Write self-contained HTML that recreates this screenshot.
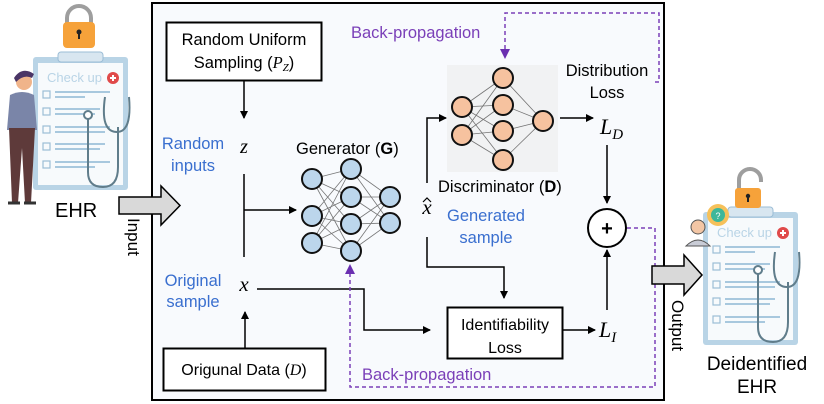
<!DOCTYPE html>
<html><head><meta charset="utf-8"><style>
html,body{margin:0;padding:0;background:#fff;}
svg{display:block;}
text{font-family:"Liberation Sans",sans-serif;}
.m{font-family:"Liberation Serif",serif;font-style:italic;}
</style></head><body>
<svg width="824" height="404" viewBox="0 0 824 404" xmlns="http://www.w3.org/2000/svg">
<defs>
<marker id="ah" markerWidth="8" markerHeight="8" refX="7" refY="4" orient="auto" markerUnits="userSpaceOnUse"><path d="M0,0 L8,4 L0,8 z" fill="#000"/></marker>
<marker id="ap" markerWidth="10" markerHeight="10" refX="9" refY="5" orient="auto" markerUnits="userSpaceOnUse"><path d="M0,0 L10,5 L0,10 z" fill="#6a2fb0"/></marker>
<g id="clip">
<rect x="0" y="0" width="95" height="133" rx="3" fill="#b9d4e6"/>
<rect x="5" y="6" width="85" height="122" fill="#f7fafc"/>
<rect x="25" y="-5" width="45" height="10" rx="3" fill="#d8e6f0" stroke="#9bbdd6"/>
<text x="14" y="25" font-size="13" fill="#b9d4e6">Check up</text>
<circle cx="80" cy="21" r="6" fill="#e04a4a"/>
<path d="M77,21h6M80,18v6" stroke="#fff" stroke-width="2"/>
<g fill="none" stroke="#9bbdd6" stroke-width="1.2">
<rect x="10" y="34" width="7" height="7"/><rect x="10" y="51" width="7" height="7"/><rect x="10" y="69" width="7" height="7"/><rect x="10" y="86" width="7" height="7"/><rect x="10" y="104" width="7" height="7"/>
</g>
<g stroke="#a8c8de" stroke-width="2">
<path d="M22,35h55M22,40h30M22,52h45M22,57h40M22,70h55M22,75h50M22,87h50M22,92h45M22,105h55M22,110h40"/>
</g>
<path d="M55,60 v55 q0,15 15,15 q15,0 15,-20 v-40" fill="none" stroke="#607d8b" stroke-width="2"/>
<circle cx="55" cy="58" r="4" fill="#fff" stroke="#607d8b" stroke-width="2"/>
<path d="M72,40 q-5,35 12,35 q15,0 12,-35" fill="none" stroke="#607d8b" stroke-width="2"/>
</g>
</defs>

<!-- left EHR -->
<use href="#clip" x="33" y="57"/>
<path d="M67,24 v-6 a12,12 0 0 1 24,0 v6" fill="none" stroke="#9e9e9e" stroke-width="4"/>
<rect x="63" y="22" width="32" height="26" rx="4" fill="#f6a23a"/>
<circle cx="79" cy="32" r="2.5" fill="#222"/><rect x="78" y="33" width="2" height="6" fill="#222"/>
<circle cx="24" cy="82" r="8" fill="#f0b48a"/>
<path d="M14,78 q8,-12 20,-4 l-2,4 q-8,-4 -16,4z" fill="#4a3566"/>
<path d="M10,95 q12,-6 24,0 l3,35 h-30z" fill="#7a85a8"/>
<path d="M9,128 h26 l-4,75 h-6 l-3,-55 l-4,55 h-6z" fill="#5e3a3a"/>
<path d="M8,203h12M24,203h12" stroke="#333" stroke-width="3"/>
<text x="55" y="217" font-size="20">EHR</text>

<!-- main box -->
<rect x="152" y="3" width="512" height="397" fill="#f8fafd" stroke="#000" stroke-width="2"/>

<!-- input arrow -->
<path d="M119,197 h42 v-11 l19,19.5 l-19,19.5 v-11 h-42z" fill="#d9d9d9" stroke="#000" stroke-width="1.5"/>
<text transform="translate(128,218) rotate(90)" font-size="17">Input</text>

<!-- random uniform -->
<rect x="166.5" y="22.5" width="155" height="58" fill="#fff" stroke="#000" stroke-width="2"/>
<text x="244" y="45" font-size="16.5" text-anchor="middle">Random Uniform</text>
<text x="244" y="68" font-size="16.5" text-anchor="middle">Sampling (<tspan class="m">P</tspan><tspan class="m" font-size="11" dy="3">Z</tspan><tspan dy="-3">)</tspan></text>
<line x1="244" y1="81" x2="244" y2="118" stroke="#000" stroke-width="1.5" marker-end="url(#ah)"/>
<text x="244" y="153" class="m" font-size="20" text-anchor="middle">z</text>
<text x="193" y="149" font-size="16.5" fill="#3a6fcf" text-anchor="middle">Random</text>
<text x="193" y="171" font-size="16.5" fill="#3a6fcf" text-anchor="middle">inputs</text>
<line x1="244" y1="174" x2="244" y2="257" stroke="#000" stroke-width="1.5"/>
<line x1="244" y1="210" x2="296" y2="210" stroke="#000" stroke-width="1.5" marker-end="url(#ah)"/>
<text x="296" y="154" font-size="16.5">Generator (<tspan font-weight="bold">G</tspan>)</text>

<!-- generator -->
<g stroke="#555" stroke-width="0.8" opacity="0.8">
<path d="M312,179L351,169M312,179L351,197M312,179L351,224M312,179L351,251M312,216L351,169M312,216L351,197M312,216L351,224M312,216L351,251M312,243L351,169M312,243L351,197M312,243L351,224M312,243L351,251M351,169L390,197M351,169L390,223M351,197L390,197M351,197L390,223M351,224L390,197M351,224L390,223M351,251L390,197M351,251L390,223"/>
</g>
<g fill="#bcd6ec" stroke="#111" stroke-width="2">
<circle cx="312" cy="179" r="10"/><circle cx="312" cy="216" r="10"/><circle cx="312" cy="243" r="10"/>
<circle cx="351" cy="169" r="10"/><circle cx="351" cy="197" r="10"/><circle cx="351" cy="224" r="10"/><circle cx="351" cy="251" r="10"/>
<circle cx="390" cy="197" r="10"/><circle cx="390" cy="223" r="10"/>
</g>

<!-- x -->
<text x="244" y="291" class="m" font-size="21" text-anchor="middle">x</text>
<text x="193" y="286" font-size="16.5" fill="#3a6fcf" text-anchor="middle">Original</text>
<text x="193" y="307" font-size="16.5" fill="#3a6fcf" text-anchor="middle">sample</text>
<line x1="245" y1="348" x2="245" y2="312" stroke="#000" stroke-width="1.5" marker-end="url(#ah)"/>
<rect x="163.5" y="348.5" width="162" height="42" fill="#fff" stroke="#000" stroke-width="2"/>
<text x="244" y="375" font-size="16" text-anchor="middle">Origunal Data (<tspan class="m">D</tspan>)</text>
<polyline points="257,289 364,289 364,330 430,330" fill="none" stroke="#000" stroke-width="1.5" marker-end="url(#ah)"/>

<!-- identifiability -->
<rect x="447.5" y="307.5" width="115" height="51" fill="#fff" stroke="#000" stroke-width="2"/>
<text x="505" y="330" font-size="16" text-anchor="middle">Identifiability</text>
<text x="505" y="353" font-size="16" text-anchor="middle">Loss</text>
<line x1="563" y1="330" x2="595" y2="330" stroke="#000" stroke-width="1.5" marker-end="url(#ah)"/>
<text x="599" y="337" class="m" font-size="22">L<tspan font-size="15" dy="5">I</tspan></text>
<line x1="607" y1="310" x2="607" y2="250" stroke="#000" stroke-width="1.5" marker-end="url(#ah)"/>

<!-- xhat -->
<text x="427" y="214" class="m" font-size="21" text-anchor="middle">x</text>
<path d="M423,202 l4,-4 l4,4" fill="none" stroke="#000" stroke-width="1.2"/>
<text x="486" y="221" font-size="16.5" fill="#3a6fcf" text-anchor="middle">Generated</text>
<text x="486" y="243" font-size="16.5" fill="#3a6fcf" text-anchor="middle">sample</text>
<polyline points="427,183 427,118 446,118" fill="none" stroke="#000" stroke-width="1.5" marker-end="url(#ah)"/>
<polyline points="427,237 427,267 504,267 504,298" fill="none" stroke="#000" stroke-width="1.5" marker-end="url(#ah)"/>

<!-- discriminator -->
<rect x="447" y="65" width="111" height="107" fill="#ececec" opacity="0.6"/>
<g stroke="#555" stroke-width="0.8" opacity="0.8">
<path d="M462,107L503,78M462,107L503,105M462,107L503,131M462,107L503,160M462,135L503,78M462,135L503,105M462,135L503,131M462,135L503,160M503,78L543,121M503,105L543,121M503,131L543,121M503,160L543,121"/>
</g>
<g fill="#f6c29f" stroke="#111" stroke-width="2">
<circle cx="462" cy="107" r="10"/><circle cx="462" cy="135" r="10"/>
<circle cx="503" cy="78" r="10"/><circle cx="503" cy="105" r="10"/><circle cx="503" cy="131" r="10"/><circle cx="503" cy="160" r="10"/>
<circle cx="543" cy="121" r="10"/>
</g>
<text x="438" y="192" font-size="16.5">Discriminator (<tspan font-weight="bold">D</tspan>)</text>
<line x1="560" y1="118" x2="593" y2="118" stroke="#000" stroke-width="1.5" marker-end="url(#ah)"/>
<text x="600" y="134" class="m" font-size="22">L<tspan font-size="15" dy="5">D</tspan></text>
<text x="607" y="76" font-size="16.5" text-anchor="middle">Distribution</text>
<text x="607" y="98" font-size="16.5" text-anchor="middle">Loss</text>
<line x1="607" y1="145" x2="607" y2="203" stroke="#000" stroke-width="1.5" marker-end="url(#ah)"/>
<circle cx="607" cy="228" r="19" fill="#fff" stroke="#000" stroke-width="2"/>
<text x="607" y="235" font-size="20" font-weight="bold" text-anchor="middle">+</text>

<!-- backprop -->
<text x="351" y="38" font-size="16.5" fill="#7a3fb8">Back-propagation</text>
<polyline points="655,82 659,82 659,13 505,13 505,58" fill="none" stroke="#7a3fb8" stroke-width="1.5" stroke-dasharray="4,3" marker-end="url(#ap)"/>
<text x="362" y="380" font-size="16.5" fill="#7a3fb8">Back-propagation</text>
<polyline points="627,228 655,228 655,387 350,387 350,265" fill="none" stroke="#7a3fb8" stroke-width="1.5" stroke-dasharray="4,3" marker-end="url(#ap)"/>

<!-- output -->
<path d="M652,266 h32 v-11 l18,20 l-18,20 v-11 h-32z" fill="#d9d9d9" stroke="#000" stroke-width="1.5"/>
<text transform="translate(672,300) rotate(90)" font-size="17">Output</text>
<use href="#clip" x="703" y="212"/>
<path d="M739,190 v-10 a11,11 0 0 1 22,0 v2" fill="none" stroke="#9e9e9e" stroke-width="4"/>
<rect x="735" y="188" width="26" height="20" rx="3" fill="#f6a23a"/>
<circle cx="748" cy="196" r="2.2" fill="#222"/><rect x="747" y="197" width="2" height="5" fill="#222"/>
<circle cx="718" cy="215" r="11" fill="#f6c15a"/><circle cx="718" cy="215" r="7" fill="#3db79a"/>
<text x="718" y="219" font-size="9" fill="#fff" text-anchor="middle">?</text>
<circle cx="698" cy="227" r="7" fill="#f3c6a5" stroke="#555"/>
<path d="M686,246 q12,-12 24,0 z" fill="#c9ccd6" stroke="#555"/>
<text x="757" y="370" font-size="19" text-anchor="middle">Deidentified</text>
<text x="757" y="393" font-size="19" text-anchor="middle">EHR</text>
</svg>
</body></html>
